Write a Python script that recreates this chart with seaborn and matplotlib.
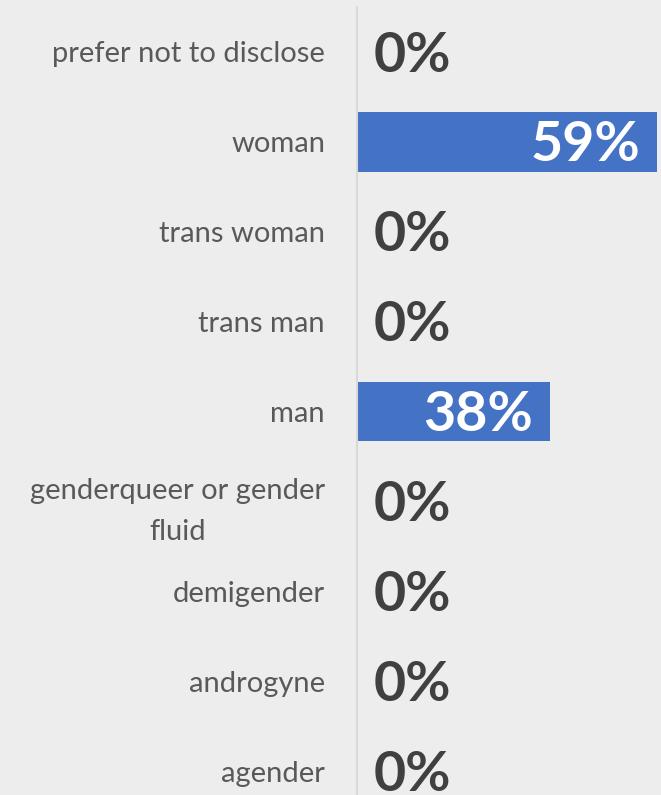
import matplotlib
matplotlib.use("Agg")
import matplotlib.pyplot as plt
import pandas as pd
import seaborn as sns

categories = ["prefer not to disclose", "woman", "trans woman", "trans man", "man",
              "genderqueer or gender\nfluid", "demigender", "androgyne", "agender"]
values = [0, 59, 0, 0, 38, 0, 0, 0, 0]

df = pd.DataFrame({"Gender": categories, "Percent": values})

sns.set_style("white")
plt.rcParams["font.family"] = ["Lato", "DejaVu Sans"]

bg = "#ededed"
fig = plt.figure(figsize=(6.61, 7.95), dpi=100, facecolor=bg)
ax = fig.add_axes([357 / 661, 1 - 816 / 795, 1 - 357 / 661, 809 / 795])
ax.set_facecolor(bg)

sns.barplot(data=df, y="Gender", x="Percent", orient="h", color="#4472c4",
            saturation=1, width=0.667, linewidth=0, ax=ax)
ax.set_xlim(0, 59.8)
ax.set_ylim(len(categories) - 0.5, -0.5)

for i, v in enumerate(values):
    if v > 0:
        ax.text(v - 3.3, i + 0.04, f"{v}%", ha="right", va="center", color="white",
                fontsize=40, fontweight="bold")
    else:
        ax.text(3.3, i + 0.04, f"{v}%", ha="left", va="center", color="#404040",
                fontsize=40, fontweight="bold")

ax.set_xlabel("")
ax.set_ylabel("")
ax.set_xticks([])
ax.tick_params(axis="y", length=0, pad=23, labelsize=21, labelcolor="#595959")
for lbl in ax.get_yticklabels():
    lbl.set_multialignment("center")
    lbl.set_linespacing(1.7)
for side in ["top", "right", "bottom"]:
    ax.spines[side].set_visible(False)
ax.spines["left"].set_color("#d9d9d9")
ax.spines["left"].set_linewidth(1.5)

fig.savefig("out.png", dpi=100, facecolor=bg)
